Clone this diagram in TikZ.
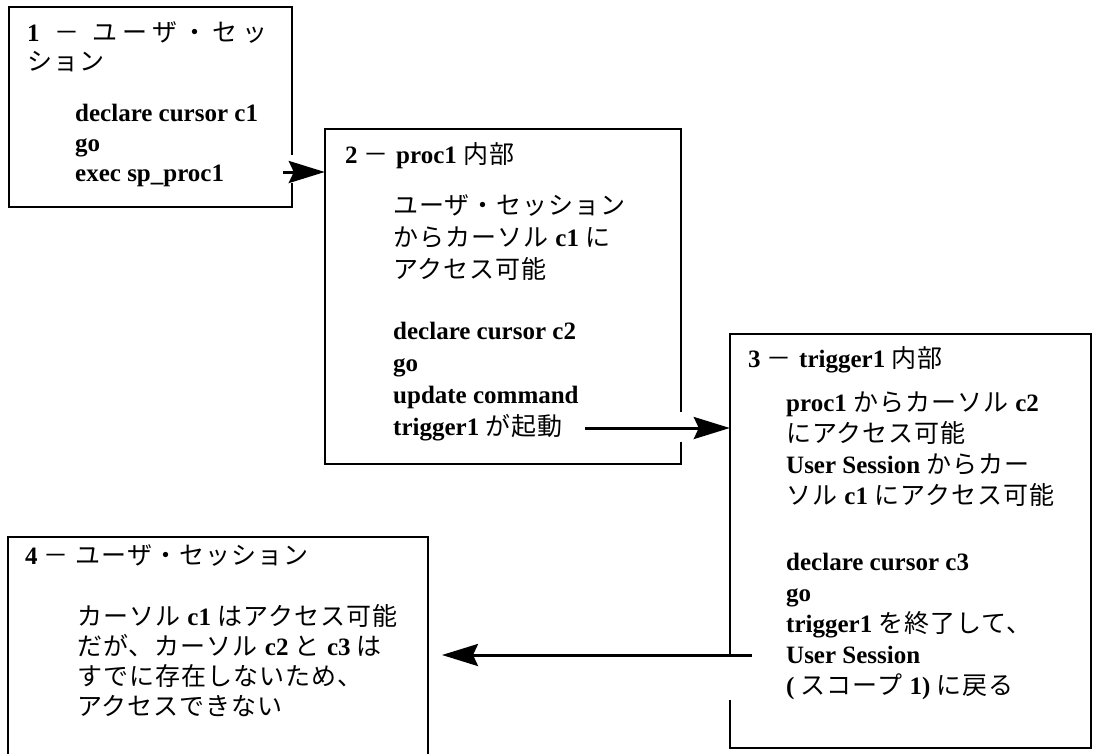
\documentclass[tikz,border=0pt]{standalone}
\usepackage{fontspec}
\setmainfont{Liberation Serif}
\newfontfamily\jp[LetterSpace=4]{Noto Sans CJK JP}
\usetikzlibrary{arrows.meta}
\newcommand\jj[1]{{\jp #1}}
\newcommand\bb[1]{\textbf{#1}}
\begin{document}
\begin{tikzpicture}[x=1pt,y=-1pt,
  txt/.style={anchor=base west, inner sep=0pt, font=\fontsize{25}{30}\selectfont},
  frame/.style={line width=2.5pt},
  conn/.style={line width=3pt, -{Stealth[length=36pt,width=22pt,inset=5pt]}},
  boxn/.style={rectangle, inner sep=0pt, draw=none}]
\useasboundingbox (0,0) rectangle (1093,753);

% box areas
\node[boxn, minimum width=283pt, minimum height=200pt] (b1) at (150.5,107) {};
\node[boxn, minimum width=356pt, minimum height=335pt] (b2) at (503,296.5) {};
\node[boxn, minimum width=361pt, minimum height=414pt] (b3) at (910.5,541) {};
\node[boxn, minimum width=420pt, minimum height=223pt] (b4) at (218,648.5) {};

% box 1 text
\node[txt] (t11) at (27,41) {\makebox[240pt][s]{\bb{1}\hspace{10pt}\hfill\jj{－}\hspace{8pt}\hfill\jj{ユ}\hfill\jj{ー}\hfill\jj{ザ}\hfill\jj{・}\hfill\jj{セ}\hfill\jj{ッ}}};
\node[txt] (t12) at (27,70) {\jj{ション}};
\node[txt] (t13) at (75,121) {\bb{declare cursor c1}};
\node[txt] (t14) at (75,151) {\bb{go}};
\node[txt] (t15) at (75,181) {\bb{exec sp\_proc1}};

% box 2 text
\node[txt] (t21) at (345,163) {\bb{2} \jj{－} \bb{proc1} \jj{内部}};
\node[txt] (t22) at (393,214) {\jj{ユーザ・セッション}};
\node[txt] (t23) at (393,246) {\jj{からカーソル} \bb{c1} \jj{に}};
\node[txt] (t24) at (393,278) {\jj{アクセス可能}};
\node[txt] (t25) at (393,339) {\bb{declare cursor c2}};
\node[txt] (t26) at (393,371) {\bb{go}};
\node[txt] (t27) at (393,403) {\bb{update command}};
\node[txt] (t28) at (393,435) {\bb{trigger1} \jj{が起動}};

% box 3 text
\node[txt] (t31) at (748,367) {\bb{3} \jj{－} \bb{trigger1} \jj{内部}};
\node[txt] (t32) at (786,411) {\bb{proc1} \jj{からカーソル} \bb{c2}};
\node[txt] (t33) at (786,442) {\jj{にアクセス可能}};
\node[txt] (t34) at (786,473) {\bb{User Session} \jj{からカー}};
\node[txt] (t35) at (786,504) {\jj{ソル} \bb{c1} \jj{にアクセス可能}};
\node[txt] (t36) at (786,570) {\bb{declare cursor c3}};
\node[txt] (t37) at (786,601) {\bb{go}};
\node[txt] (t38) at (786,632) {\bb{trigger1} \jj{を終了して、}};
\node[txt] (t39) at (786,663) {\bb{User Session}};
\node[txt] (t310) at (786,694) {\bb{(} \jj{スコープ} \bb{1)} \jj{に戻る}};

% box 4 text
\node[txt] (t41) at (25,564) {\bb{4} \jj{－ ユーザ・セッション}};
\node[txt] (t42) at (77,625) {\jj{カーソル} \bb{c1} \jj{はアクセス可能}};
\node[txt] (t43) at (77,655) {\jj{だが、カーソル} \bb{c2} \jj{と} \bb{c3} \jj{は}};
\node[txt] (t44) at (77,685) {\jj{すでに存在しないため、}};
\node[txt] (t45) at (77,715) {\jj{アクセスできない}};

% connector ends
\coordinate (a1s) at (283,172);
\coordinate (a2s) at (585,428);
\coordinate (a3s) at (752,655);
\coordinate (a3e) at (442,655);

% frames with gaps
\draw[frame] (b1.east |- a1s) ++(0,-17) -- (b1.north east) -- (b1.north west)
  -- (b1.south west) -- (b1.south east) -- ++(0,-24);
\draw[frame] (b2.east |- a2s) ++(0,-16) -- (b2.north east) -- (b2.north west)
  -- (b2.south west) -- (b2.south east) -- ++(0,-22);
\draw[frame] (b3.west |- a3s) -- (b3.north west) -- (b3.north east)
  -- (b3.south east) -- (b3.south west) -- ++(0,-48);
\draw[frame] (b4.south west) -- (b4.north west) -- (b4.north east) -- (b4.south east);

% connectors
\draw[conn] (a1s) -- (b2.west |- a1s);
\draw[conn] (a2s) -- (b3.west |- a2s);
\draw[conn] (a3s) -- (a3e);
\end{tikzpicture}
\end{document}
